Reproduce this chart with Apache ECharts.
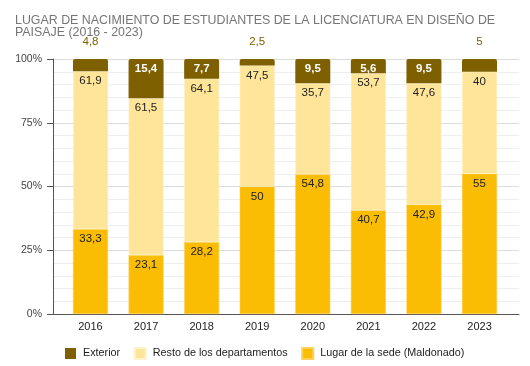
<!DOCTYPE html>
<html><head><meta charset="utf-8">
<script src="https://cdn.jsdelivr.net/npm/echarts@6/dist/echarts.min.js"></script>
<style>html,body{margin:0;padding:0;background:#fff}#c{width:530px;height:366px}</style>
</head><body><div id="c"></div>
<script>
const titleText = 'LUGAR DE NACIMIENTO DE ESTUDIANTES DE LA LICENCIATURA EN DISEÑO DE\nPAISAJE (2016 - 2023)';
const years = ['2016','2017','2018','2019','2020','2021','2022','2023'];
const sede = [33.3, 23.1, 28.2, 50, 54.8, 40.7, 42.9, 55];
const resto = [61.9, 61.5, 64.1, 47.5, 35.7, 53.7, 47.6, 40];
const exterior = [4.8, 15.4, 7.7, 2.5, 9.5, 5.6, 9.5, 5];
const seriesNames = ['Exterior', 'Resto de los departamentos', 'Lugar de la sede (Maldonado)'];
const yTicks = [0, 25, 50, 75, 100];

const fmt = v => String(v).replace('.', ',');
const FONT = 'Liberation Sans, Arial, sans-serif';

const exteriorData = exterior.map(v => v >= 5.5
  ? { value: v, label: { show: true, position: 'insideTop', distance: 4, color: '#fff', fontWeight: 'bold', fontSize: 11.5 } }
  : { value: v, label: { show: true, position: 'top', distance: 11, color: '#7f6000', fontWeight: 'normal', fontSize: 11.5 } });

const chart = echarts.init(document.getElementById('c'), null, { renderer: 'canvas' });
chart.setOption({
  animation: false,
  textStyle: { fontFamily: FONT },
  title: {
    text: titleText, left: 15, top: 15, padding: 0,
    textStyle: { color: '#757575', fontSize: 12.4, fontWeight: 'normal', lineHeight: 11.5, fontFamily: FONT }
  },
  legend: {
    data: seriesNames, left: 60, top: 342, itemWidth: 11, itemHeight: 11, itemGap: 13.5,
    icon: 'rect',
    textStyle: { color: '#222', fontSize: 10.8, padding: [0, 0, 0, 2], fontFamily: FONT }
  },
  grid: [
    { left: 53, right: 11, top: 59, bottom: 52 },
    { left: 62.7, right: 22.7, top: 59, bottom: 52 }
  ],
  xAxis: [
    { type: 'category', gridIndex: 0, data: years, axisLabel: { show: false }, axisTick: { show: false },
      axisLine: { show: true, lineStyle: { color: '#555', width: 1 } }, splitLine: { show: false } },
    { type: 'category', gridIndex: 1, data: years, axisLine: { show: false }, axisTick: { show: false },
      axisLabel: { color: '#222', fontSize: 11, margin: 7, fontFamily: FONT } }
  ],
  yAxis: [
    { type: 'value', gridIndex: 0, min: yTicks[0], max: yTicks[yTicks.length - 1], interval: 25,
      axisLine: { show: true, lineStyle: { color: '#555' } },
      axisTick: { show: true, length: 6, lineStyle: { color: '#555' } },
      axisLabel: { color: '#444', fontSize: 10.5, margin: 11, formatter: v => v + '%', fontFamily: FONT },
      splitLine: { show: true, lineStyle: { color: '#dddddd' } },
      minorTick: { show: false, splitNumber: 5 },
      minorSplitLine: { show: true, lineStyle: { color: '#eeeeee' } } },
    { type: 'value', gridIndex: 1, min: 0, max: 100, show: false, splitLine: { show: false } }
  ],
  series: [
    { name: seriesNames[2], type: 'bar', stack: 's', xAxisIndex: 1, yAxisIndex: 1, data: sede, barWidth: 35,
      itemStyle: { color: '#fbbc04', borderColor: '#fdd05a', borderWidth: 0.5 },
      label: { show: true, position: 'insideTop', distance: 4, color: '#222', fontSize: 11.5, formatter: p => fmt(p.value) } },
    { name: seriesNames[1], type: 'bar', stack: 's', xAxisIndex: 1, yAxisIndex: 1, data: resto, barWidth: 35,
      itemStyle: { color: '#ffe599', borderColor: '#fff3cc', borderWidth: 0.5 },
      label: { show: true, position: 'insideTop', distance: 4, color: '#222', fontSize: 11.5, formatter: p => fmt(p.value) } },
    { name: seriesNames[0], type: 'bar', stack: 's', xAxisIndex: 1, yAxisIndex: 1, data: exteriorData, barWidth: 35,
      itemStyle: { color: '#7f6000', borderRadius: [2, 2, 0, 0] },
      label: { show: true, formatter: p => fmt(p.value) } }
  ]
});
</script></body></html>
